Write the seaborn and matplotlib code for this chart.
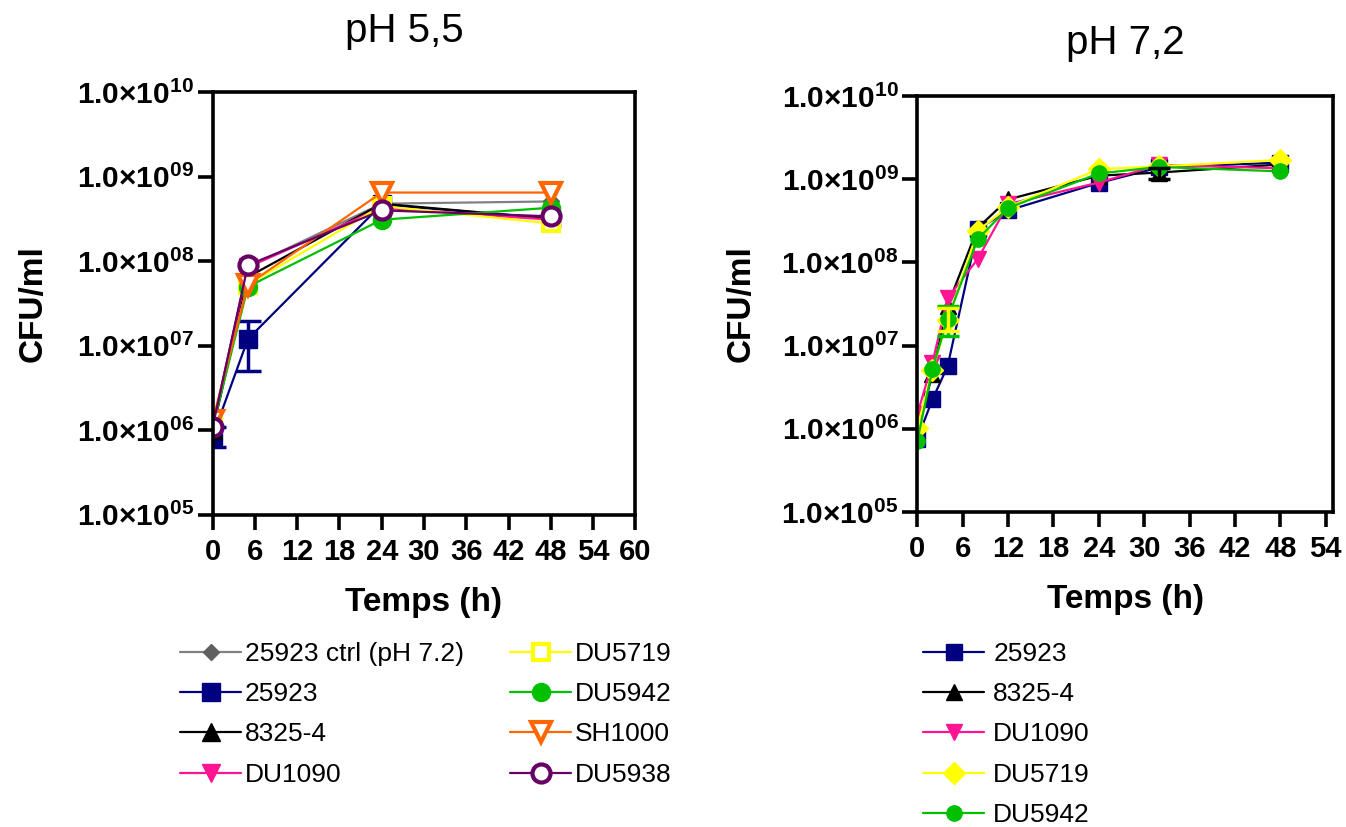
import numpy as np
import pandas as pd
import matplotlib
matplotlib.use("Agg")
import matplotlib.pyplot as plt
import seaborn as sns
from matplotlib.ticker import FixedLocator, FuncFormatter, NullLocator

# ---------------- data ----------------
# pH 5,5 panel
t_left = [0, 5, 24, 48]
left_names = ["25923 ctrl (pH 7.2)", "25923", "8325-4", "DU1090",
              "DU5719", "DU5942", "SH1000", "DU5938"]
ctrl_55 = [1.1e6, 8.5e7, 4.8e8, 5.1e8]
s25923_55 = [0.85e6, 1.2e7, 4.7e8, 3.2e8]
s8325_55 = [1.0e6, 6.5e7, 4.8e8, 3.2e8]
du1090_55 = [1.1e6, 8.5e7, 4.3e8, 3.1e8]
du5719_55 = [1.2e6, 5.3e7, 4.5e8, 2.8e8]
du5942_55 = [1.1e6, 5.0e7, 3.1e8, 4.3e8]
sh1000_55 = [1.3e6, 5.3e7, 6.5e8, 6.5e8]
du5938_55 = [1.1e6, 9.0e7, 4.0e8, 3.4e8]
# error bars (25923, pH 5,5): lower / upper bounds
err_25923_lo = [0.63e6, 5.0e6]
err_25923_hi = [1.1e6, 1.95e7]

# pH 7,2 panel
t_right = [0, 2, 4, 8, 12, 24, 32, 48]
right_names = ["25923", "8325-4", "DU1090", "DU5719", "DU5942"]
s25923_72 = [7.5e5, 2.25e6, 5.6e6, 2.5e8, 4.2e8, 9.0e8, 1.38e9, 1.58e9]
s8325_72 = [9.0e5, 4.6e6, 3.0e7, 2.6e8, 5.7e8, 1.1e9, 1.2e9, 1.5e9]
du1090_72 = [1.5e6, 6.2e6, 3.7e7, 1.1e8, 5.0e8, 9.1e8, 1.48e9, 1.35e9]
du5719_72 = [1.03e6, 5.1e6, 2.0e7, 2.4e8, 4.6e8, 1.32e9, 1.42e9, 1.7e9]
du5942_72 = [7.1e5, 5.2e6, 2.1e7, 1.9e8, 4.5e8, 1.17e9, 1.4e9, 1.24e9]
# error bars at t=4 (green, yellow) and t=32 (black)
err_72_t = [4, 4, 32]
err_72_y = [2.1e7, 2.0e7, 1.2e9]
err_72_lo = [1.3e7, 1.5e7, 1.0e9]
err_72_hi = [2.95e7, 2.8e7, 1.35e9]

x_ticks_left = list(range(0, 61, 6))
x_ticks_right = list(range(0, 55, 6))
y_ticks = [1e5, 1e6, 1e7, 1e8, 1e9, 1e10]

# ---------------- style ----------------
sns.set_theme(style="white")
plt.rcParams["font.family"] = ["Liberation Sans", "DejaVu Sans"]
plt.rcParams["mathtext.fontset"] = "custom"
plt.rcParams["mathtext.rm"] = "Liberation Sans"
plt.rcParams["mathtext.bf"] = "Liberation Sans:bold"
plt.rcParams["mathtext.it"] = "Liberation Sans:italic"
for k in ["text.color", "axes.labelcolor", "xtick.color", "ytick.color", "axes.edgecolor"]:
    plt.rcParams[k] = "black"

styles_left = {
    "25923 ctrl (pH 7.2)": dict(color="#808080", marker="D", mfc="#606060", mec="#606060", ms=8, mew=1),
    "25923": dict(color="#000080", marker="s", mfc="#000080", mec="#000080", ms=13, mew=1),
    "8325-4": dict(color="#000000", marker="^", mfc="#000000", mec="#000000", ms=13, mew=1),
    "DU1090": dict(color="#FF1493", marker="v", mfc="#FF1493", mec="#FF1493", ms=13, mew=1),
    "DU5719": dict(color="#FFFF00", marker="s", mfc="white", mec="#FFFF00", ms=12, mew=3),
    "DU5942": dict(color="#00C000", marker="o", mfc="#00C000", mec="#00C000", ms=13, mew=1),
    "SH1000": dict(color="#FF6600", marker="v", mfc="white", mec="#FF6600", ms=14, mew=3),
    "DU5938": dict(color="#660066", marker="o", mfc="white", mec="#660066", ms=13, mew=3),
}
styles_right = {
    "25923": dict(color="#000080", marker="s", mfc="#000080", mec="#000080", ms=12, mew=1),
    "8325-4": dict(color="#000000", marker="^", mfc="#000000", mec="#000000", ms=12, mew=1),
    "DU1090": dict(color="#FF1493", marker="v", mfc="#FF1493", mec="#FF1493", ms=12, mew=1),
    "DU5719": dict(color="#FFFF00", marker="D", mfc="#FFFF00", mec="#FFFF00", ms=11, mew=1),
    "DU5942": dict(color="#00C000", marker="o", mfc="#00C000", mec="#00C000", ms=11, mew=1),
}

left_vals = [ctrl_55, s25923_55, s8325_55, du1090_55, du5719_55, du5942_55, sh1000_55, du5938_55]
right_vals = [s25923_72, s8325_72, du1090_72, du5719_72, du5942_72]

df_left = pd.DataFrame([(n, t, v) for n, vals in zip(left_names, left_vals)
                        for t, v in zip(t_left, vals)], columns=["strain", "t", "cfu"])
df_right = pd.DataFrame([(n, t, v) for n, vals in zip(right_names, right_vals)
                         for t, v in zip(t_right, vals)], columns=["strain", "t", "cfu"])

fig = plt.figure(figsize=(13.46, 8.27), dpi=100)
axL = fig.add_axes([0.1580, 0.3775, 0.3140, 0.5110])
axR = fig.add_axes([0.6815, 0.3810, 0.3090, 0.5030])


def ytick_fmt(v, pos):
    e = int(round(np.log10(v)))
    return r"$\mathbf{1.0{\times}10^{%02d}}$" % e


def style_axis(ax, xticks, xlim, ylabelpad):
    ax.set_yscale("log")
    ax.set_ylim(1e5, 1e10)
    ax.set_xlim(*xlim)
    ax.yaxis.set_major_locator(FixedLocator(y_ticks))
    ax.yaxis.set_minor_locator(NullLocator())
    ax.yaxis.set_major_formatter(FuncFormatter(ytick_fmt))
    ax.xaxis.set_major_locator(FixedLocator(xticks))
    for sp in ax.spines.values():
        sp.set_linewidth(2.6)
        sp.set_color("black")
        sp.set_visible(True)
    ax.tick_params(axis="both", which="major", direction="out", length=10.5, width=2.6,
                   color="black", left=True, bottom=True)
    ax.tick_params(axis="y", labelsize=21.5, pad=3)
    ax.tick_params(axis="x", labelsize=21, pad=6)
    for lab in ax.get_xticklabels():
        lab.set_fontweight("bold")
    ax.set_xlabel("Temps (h)", fontsize=24, fontweight="bold", labelpad=15)
    ax.set_ylabel("CFU/ml", fontsize=24, fontweight="bold", labelpad=ylabelpad)
    ax.grid(False)


# left panel
for name in left_names:
    st = styles_left[name]
    sub = df_left[df_left["strain"] == name]
    sns.lineplot(data=sub, x="t", y="cfu", ax=axL, color=st["color"], lw=1.6,
                 marker=st["marker"], markersize=st["ms"], markerfacecolor=st["mfc"],
                 markeredgecolor=st["mec"], markeredgewidth=st["mew"], label=name,
                 legend=False, errorbar=None)
    if name == "25923":
        yv = np.array(s25923_55[:2])
        axL.errorbar(t_left[:2], yv,
                     yerr=[yv - np.array(err_25923_lo), np.array(err_25923_hi) - yv],
                     fmt="none", ecolor=st["color"], elinewidth=2.5, capsize=9, capthick=2.5)
style_axis(axL, x_ticks_left, (0, 60), 20)
axL.set_title("pH 5,5", fontsize=29, pad=36, x=0.453)

# right panel
for name in right_names:
    st = styles_right[name]
    sub = df_right[df_right["strain"] == name]
    sns.lineplot(data=sub, x="t", y="cfu", ax=axR, color=st["color"], lw=1.6,
                 marker=st["marker"], markersize=st["ms"], markerfacecolor=st["mfc"],
                 markeredgecolor=st["mec"], markeredgewidth=st["mew"], label=name,
                 legend=False, errorbar=None)
err_cols = [styles_right["DU5942"]["color"], styles_right["DU5719"]["color"], styles_right["8325-4"]["color"]]
for tt, yy, lo, hi, c in zip(err_72_t, err_72_y, err_72_lo, err_72_hi, err_cols):
    axR.errorbar([tt], [yy], yerr=[[yy - lo], [hi - yy]], fmt="none", ecolor=c,
                 elinewidth=2.5, capsize=8, capthick=2.5)
style_axis(axR, x_ticks_right, (0, 55), 18)
axR.set_title("pH 7,2", fontsize=29, pad=30)

# legends
hL, lL = axL.get_legend_handles_labels()
fig.legend(hL, lL, loc="upper left", bbox_to_anchor=(0.134, 0.224), ncol=2,
           frameon=False, fontsize=19, handlelength=2.3, handletextpad=0.15,
           columnspacing=1.75, labelspacing=0.62, borderpad=0, borderaxespad=0)
hR, lR = axR.get_legend_handles_labels()
fig.legend(hR, lR, loc="upper left", bbox_to_anchor=(0.686, 0.224), ncol=1,
           frameon=False, fontsize=19, handlelength=2.3, handletextpad=0.35,
           labelspacing=0.62, borderpad=0, borderaxespad=0)

fig.savefig("out.png", dpi=100, facecolor="white")
